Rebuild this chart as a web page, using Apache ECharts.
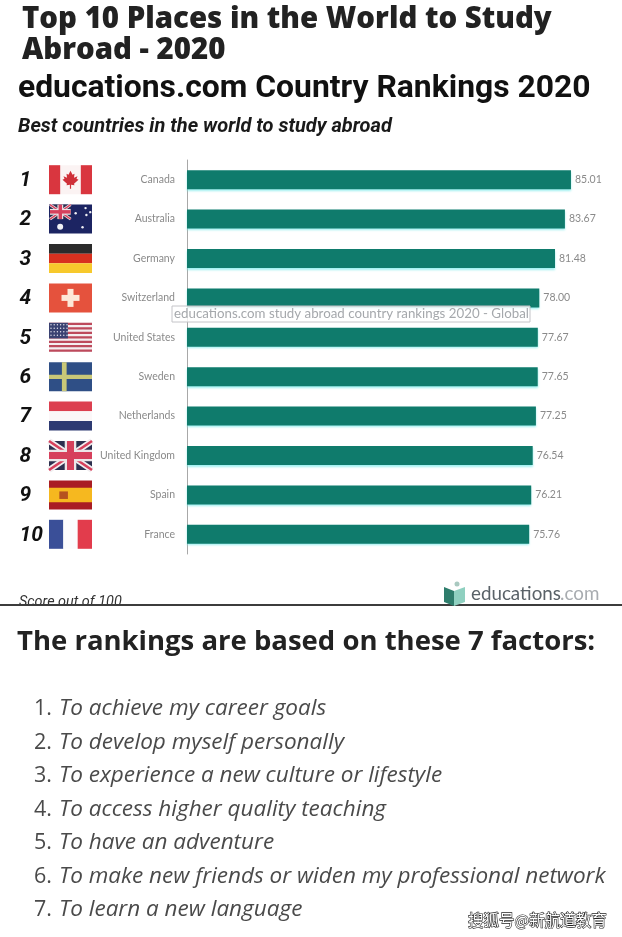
<!DOCTYPE html>
<html>
<head>
<meta charset="utf-8">
<style>html,body{margin:0;padding:0;background:#fff}#chart{width:622px;height:937px}</style>
<script src="https://cdn.jsdelivr.net/npm/echarts@6/dist/echarts.min.js"></script>
</head>
<body>
<div id="chart"></div>
<script>
const ranks = ['1', '2', '3', '4', '5', '6', '7', '8', '9', '10'];
const countries = ['Canada', 'Australia', 'Germany', 'Switzerland', 'United States', 'Sweden', 'Netherlands', 'United Kingdom', 'Spain', 'France'];
const scores = [85.01, 83.67, 81.48, 78.00, 77.67, 77.65, 77.25, 76.54, 76.21, 75.76];
const factors = [
    'To achieve my career goals',
    'To develop myself personally',
    'To experience a new culture or lifestyle',
    'To access higher quality teaching',
    'To have an adventure',
    'To make new friends or widen my professional network',
    'To learn a new language'
];

const chart = echarts.init(document.getElementById('chart'));

const rect = (x, y, w, h, fill) => ({type: 'rect', shape: {x, y, width: w, height: h}, style: {fill}});
const poly = (points, fill) => ({type: 'polygon', shape: {points}, style: {fill}});
const line = (x1, y1, x2, y2, stroke, lineWidth) => ({type: 'line', shape: {x1, y1, x2, y2}, style: {stroke, lineWidth}});
const dot = (cx, cy, r, fill) => ({type: 'circle', shape: {cx, cy, r}, style: {fill}});

// union jack, used for the UK flag and the corner of the australian one
function unionJack(x, y, w, h) {
    const thick = h * 0.2, thin = h * 0.09;
    return [
        rect(x, y, w, h, '#2c2f4e'),
        line(x, y, x + w, y + h, '#f1eef0', thick),
        line(x + w, y, x, y + h, '#f1eef0', thick),
        line(x, y, x + w, y + h, '#d6405c', thin),
        line(x + w, y, x, y + h, '#d6405c', thin),
        rect(x + w / 2 - h * 0.2, y, h * 0.4, h, '#ece6e8'),
        rect(x, y + h * 0.3, w, h * 0.4, '#ece6e8'),
        rect(x + w / 2 - h * 0.12, y, h * 0.24, h, '#d6405c'),
        rect(x, y + h * 0.38, w, h * 0.24, '#d6405c')
    ];
}

function drawFlag(name, x, y, w, h) {
    switch (name) {
        case 'Canada': {
            const cx = x + w / 2, cy = y + h / 2;
            const leaf = [[0, -9], [2, -5], [4, -6], [3.5, -2], [7, -3.5], [6, -1], [8, 0], [3.5, 4], [4, 5.5], [0.6, 5], [0.6, 9], [-0.6, 9], [-0.6, 5], [-4, 5.5], [-3.5, 4], [-8, 0], [-6, -1], [-7, -3.5], [-3.5, -2], [-4, -6], [-2, -5]];
            return [
                rect(x, y, w, h, '#fbf3f3'),
                rect(x, y, w * 0.26, h, '#d9363f'),
                rect(x + w * 0.74, y, w * 0.26, h, '#d9363f'),
                poly(leaf.map(p => [cx + p[0], cy + p[1]]), '#cf2f38')
            ];
        }
        case 'Australia': {
            const stars = [[0.62, 0.3], [0.85, 0.12], [0.87, 0.36], [0.96, 0.26], [0.78, 0.78]];
            return [rect(x, y, w, h, '#1c2462')]
                .concat(unionJack(x + 1, y, w * 0.48, h * 0.5))
                .concat(stars.map(s => dot(x + w * s[0], y + h * s[1], 1.2, '#f0f0f5')))
                .concat([dot(x + w * 0.26, y + h * 0.76, 3, '#f0f0f5')]);
        }
        case 'Germany':
            return [rect(x, y, w, h / 3, '#2b2b2b'), rect(x, y + h / 3, w, h / 3, '#d8311f'), rect(x, y + 2 * h / 3, w, h / 3, '#f7c92c')];
        case 'Switzerland':
            return [
                rect(x, y, w, h, '#e5523d'),
                rect(x + w / 2 - 3, y + h / 2 - 9, 6, 18, '#fde8d8'),
                rect(x + w / 2 - 9, y + h / 2 - 3, 18, 6, '#fde8d8')
            ];
        case 'United States': {
            const out = [rect(x, y, w, h, '#f4eef0')];
            for (let i = 0; i < 7; i++) out.push(rect(x, y + i * 2 * h / 13, w, h / 13, '#bd4a5c'));
            out.push(rect(x, y, w * 0.44, h * 7 / 13, '#3a4272'));
            for (let r = 0; r < 4; r++) {
                for (let c = 0; c < 6; c++) out.push(dot(x + 2 + c * 3.2, y + 2 + r * 3.5, 0.7, '#e4e4ee'));
            }
            return out;
        }
        case 'Sweden':
            return [
                rect(x, y, w, h, '#2f4f86'),
                rect(x + w * 0.3, y, w * 0.11, h, '#c9c878'),
                rect(x, y + h * 0.43, w, h * 0.15, '#c9c878')
            ];
        case 'Netherlands':
            return [rect(x, y, w, h / 3, '#dc3f50'), rect(x, y + h / 3, w, h / 3, '#fbf7f8'), rect(x, y + 2 * h / 3, w, h / 3, '#2e3a72')];
        case 'United Kingdom':
            return unionJack(x, y, w, h);
        case 'Spain':
            return [
                rect(x, y, w, h, '#a91d24'),
                rect(x, y + h / 4, w, h / 2, '#f6b81f'),
                rect(x + w * 0.24, y + h * 0.38, w * 0.2, h * 0.26, '#b5521f')
            ];
        case 'France':
            return [rect(x, y, w / 3, h, '#3a4f98'), rect(x + w / 3, y, w / 3, h, '#fbfbfd'), rect(x + 2 * w / 3, y, w / 3, h, '#e23c4c')];
    }
    return [];
}

const graphicText = (text, x, y, style) => ({
    type: 'text', x, y, z: 20,
    style: Object.assign({text, textVerticalAlign: 'middle'}, style)
});

const graphics = [
    graphicText('Top 10 Places in the World to Study', 22, 20, {font: '800 29.4px "Open Sans"', fill: '#222'}),
    graphicText('Abroad - 2020', 22, 51, {font: '800 29.4px "Open Sans"', fill: '#222'}),
    graphicText('educations.com Country Rankings 2020', 18, 89, {font: 'bold 31.85px Roboto', fill: '#111'}),
    graphicText('Best countries in the world to study abroad', 18, 127, {font: 'italic bold 20px Roboto', fill: '#1a1a1a'}),
    // source label that sits over the bars
    {type: 'rect', z: 30, shape: {x: 172, y: 306, width: 358, height: 16}, style: {fill: 'rgba(255,255,255,0.82)', stroke: '#c4c4c8', lineWidth: 1}},
    Object.assign(graphicText('educations.com study abroad country rankings 2020 - Global', 174, 314, {font: '13.3px Lato', fill: '#a5a8ac'}), {z: 31}),
    graphicText('Score out of 100', 19, 602, {font: 'italic 14.4px Roboto', fill: '#333'}),
    {type: 'rect', z: 25, shape: {x: 0, y: 605, width: 622, height: 332}, style: {fill: '#fff'}},
    {type: 'rect', z: 26, shape: {x: 0, y: 604, width: 622, height: 2}, style: {fill: '#3c3c3c'}},
    // educations.com logo
    {type: 'polygon', z: 27, shape: {points: [[444, 587], [454, 591], [454, 606], [444, 602]]}, style: {fill: '#2e7d6c'}},
    {type: 'polygon', z: 27, shape: {points: [[454, 591], [465, 587], [465, 602], [454, 606]]}, style: {fill: '#8fd0c0'}},
    {type: 'circle', z: 27, shape: {cx: 457, cy: 584, r: 2.5}, style: {fill: '#a9c9c0'}},
    graphicText('educations', 471, 594, {font: '18.8px Lato', fill: '#5a6268'}),
    graphicText('.com', 560, 594, {font: '18.8px Lato', fill: '#a8acb0'}),
    Object.assign(graphicText('The rankings are based on these 7 factors:', 17, 642, {font: 'bold 27.5px "Open Sans"', fill: '#222'}), {z: 30}),
    Object.assign(graphicText('搜狐号@新航道教育', 468, 920, {font: '15.5px "Noto Sans CJK SC"', fill: '#fff', stroke: '#222', lineWidth: 1.2}), {z: 30})
];

const factorRows = [709, 743, 776, 810, 843, 877, 910];
factors.forEach((factor, i) => {
    graphics.push(Object.assign(graphicText((i + 1) + '.', 34, factorRows[i], {font: '21.5px "Open Sans"', fill: '#4a4a4a'}), {z: 30}));
    graphics.push(Object.assign(graphicText(factor, 59, factorRows[i], {font: 'italic 22.5px "Open Sans"', fill: '#4a4a4a'}), {z: 30}));
});

const option = {
    animation: false,
    backgroundColor: '#fff',
    grid: {left: 187, top: 160, width: 433.6, height: 394},
    xAxis: {type: 'value', min: 0, max: 96, show: false},
    yAxis: {
        type: 'category',
        inverse: true,
        data: countries,
        axisTick: {show: false},
        axisLine: {show: true, lineStyle: {color: '#a8a8a8', width: 1}},
        axisLabel: {margin: 12, fontFamily: 'Lato', fontSize: 10.5, color: '#8a8a8a'}
    },
    series: [
        {
            type: 'bar',
            data: scores,
            barWidth: 19,
            itemStyle: {color: '#0f7b6c', shadowColor: 'rgba(120,235,235,0.7)', shadowBlur: 2, shadowOffsetY: 1.5},
            label: {
                show: true,
                position: 'right',
                distance: 4,
                fontFamily: 'Lato',
                fontSize: 10.5,
                color: '#8a8a8a',
                formatter: p => p.value.toFixed(2)
            }
        },
        {
            // rank number and flag at the left of every row
            type: 'custom',
            clip: false,
            data: ranks.map((r, i) => [0, i]),
            encode: {x: 0, y: 1},
            renderItem: (params, api) => {
                const i = api.value(1);
                const cy = api.coord([0, i])[1];
                return {
                    type: 'group',
                    children: drawFlag(countries[i], 49, cy - 14.5, 43, 29).concat([{
                        type: 'text',
                        style: {
                            text: ranks[i],
                            x: 19.5,
                            y: cy + 1,
                            textVerticalAlign: 'middle',
                            font: 'italic bold 21px Roboto',
                            fill: '#111'
                        }
                    }])
                };
            }
        }
    ],
    graphic: graphics
};

chart.setOption(option);
</script>
</body>
</html>
